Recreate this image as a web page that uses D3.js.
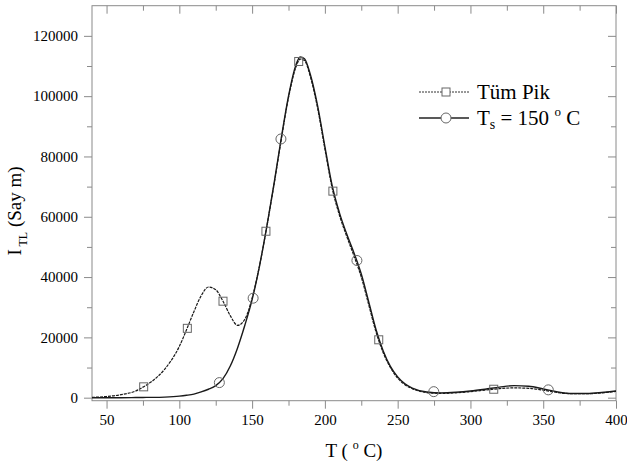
<!DOCTYPE html>
<html>
<head>
<meta charset="utf-8">
<script src="https://cdn.jsdelivr.net/npm/d3@7"></script>
<style>
  body { margin: 0; background: #fff; }
  svg text { font-family: "Liberation Serif", "Times New Roman", Times, "DejaVu Serif", serif !important; fill: #000; }
</style>
</head>
<body>
<div id="chart"></div>
<script>
// Temperatures (x) and the two glow curves.
var temps = [40, 50, 60, 70, 75, 80, 90, 100, 105, 110, 115, 120, 125, 130, 135, 140, 145, 150,
             155, 160, 165, 170, 175, 180, 183, 186, 190, 195, 200, 205, 210, 215, 220, 225,
             230, 235, 240, 245, 250, 255, 260, 270, 280, 290, 300, 310, 320, 330, 340, 350,
             360, 370, 380, 390, 400];
var tumPik = [100, 400, 1000, 2200, 3500, 5000, 9500, 17000, 22600, 28500, 33800, 36700, 35800,
              32000, 27200, 24000, 26000, 33000, 43500, 56500, 70500, 85500, 99500, 109500,
              112300, 111800, 106500, 96000, 82500, 69500, 60500, 53500, 47000, 40000, 31000,
              22000, 15000, 10000, 6500, 4300, 3000, 1700, 1400, 1600, 2000, 2500, 3000, 3250,
              3100, 2500, 1700, 1300, 1300, 1600, 2100];
var ts150 = [0, 0, 0, 50, 80, 100, 200, 500, 800, 1200, 1900, 2800, 4000, 6300, 10500, 16500,
             24000, 32500, 43500, 56500, 70800, 86000, 100000, 110200, 113000, 112400, 107200,
             96800, 83300, 70300, 61300, 54300, 48000, 41000, 32000, 22800, 15600, 10400, 6900,
             4600, 3200, 1900, 1600, 1800, 2200, 2800, 3500, 4000, 3800, 2900, 1900, 1400, 1400,
             1700, 2200];

// Marker positions on each curve.
var squareT = [75.5, 105.5, 130, 159.5, 182, 205.5, 237, 316];
var squareV = [3600, 23000, 32000, 55200, 111500, 68500, 19200, 2800];
var circleT = [127.5, 150.7, 169.8, 222, 274.8, 353.5];
var circleV = [5000, 33000, 85800, 45500, 2000, 2600];

// Tick values.
var xTicks = [50, 100, 150, 200, 250, 300, 350, 400];
var xMinor = [75, 125, 175, 225, 275, 325, 375];
var yTicks = [0, 20000, 40000, 60000, 80000, 100000, 120000];
var yMinor = [10000, 30000, 50000, 70000, 90000, 110000];

var margin = {top: 5.7, right: 11, bottom: 63.3, left: 92};
var width  = 627 - margin.left - margin.right;
var height = 464 - margin.top - margin.bottom;

var svg = d3.select("#chart").append("svg")
    .attr("width", 627)
    .attr("height", 464)
  .append("g")
    .attr("transform", "translate(" + margin.left + "," + margin.top + ")");

var x = d3.scaleLinear().domain([40, 400]).range([0, width]);
var y = d3.scaleLinear().domain([-1000, 130000]).range([height, 0]);

var axisColor = "#8a8a8a";
var serif = "'Liberation Serif', 'Times New Roman', Times, serif";

// helper: draws an axis and recolours it
function drawAxis(g, axis, labels) {
    g.call(axis);
    g.attr("font-family", serif);
    g.select(".domain").remove();
    g.selectAll(".tick line").attr("stroke", axisColor).attr("stroke-width", 1);
    if (labels) {
        g.selectAll(".tick text")
            .style("font-family", serif)
            .attr("font-size", 15)
            .attr("fill", "#000");
    } else {
        g.selectAll(".tick text").remove();
    }
}

// bottom (outward) and top (inward)
drawAxis(svg.append("g").attr("transform", "translate(0," + height + ")"),
    d3.axisBottom(x).tickValues(xTicks).tickSize(8).tickPadding(6).tickFormat(d3.format("d")), true);
drawAxis(svg.append("g").attr("transform", "translate(0," + height + ")"),
    d3.axisBottom(x).tickValues(xMinor).tickSize(5), false);
drawAxis(svg.append("g"), d3.axisBottom(x).tickValues(xTicks).tickSize(8), false);
drawAxis(svg.append("g"), d3.axisBottom(x).tickValues(xMinor).tickSize(5), false);

// left (outward) and right (inward)
drawAxis(svg.append("g"),
    d3.axisLeft(y).tickValues(yTicks).tickSize(8).tickPadding(6).tickFormat(d3.format("d")), true);
drawAxis(svg.append("g"), d3.axisLeft(y).tickValues(yMinor).tickSize(5), false);
drawAxis(svg.append("g").attr("transform", "translate(" + width + ",0)"),
    d3.axisLeft(y).tickValues(yTicks).tickSize(8), false);
drawAxis(svg.append("g").attr("transform", "translate(" + width + ",0)"),
    d3.axisLeft(y).tickValues(yMinor).tickSize(5), false);

// frame
svg.append("rect")
    .attr("width", width)
    .attr("height", height)
    .attr("fill", "none")
    .attr("stroke", axisColor)
    .attr("stroke-width", 1);

// curves
var line = d3.line()
    .x(function(d) { return x(d[0]); })
    .y(function(d) { return y(d[1]); })
    .curve(d3.curveMonotoneX);

svg.append("path")
    .datum(d3.zip(temps, ts150))
    .attr("d", line)
    .attr("fill", "none")
    .attr("stroke", "#1a1a1a")
    .attr("stroke-width", 1.4);

svg.append("path")
    .datum(d3.zip(temps, tumPik))
    .attr("d", line)
    .attr("fill", "none")
    .attr("stroke", "#1a1a1a")
    .attr("stroke-width", 1.2)
    .attr("stroke-dasharray", "3,1");

// markers
svg.selectAll(".sq").data(d3.zip(squareT, squareV)).enter().append("rect")
    .attr("x", function(d) { return x(d[0]) - 4; })
    .attr("y", function(d) { return y(d[1]) - 4; })
    .attr("width", 8)
    .attr("height", 8)
    .attr("fill", "none")
    .attr("stroke", "#666")
    .attr("stroke-width", 1);

svg.selectAll(".ci").data(d3.zip(circleT, circleV)).enter().append("circle")
    .attr("cx", function(d) { return x(d[0]); })
    .attr("cy", function(d) { return y(d[1]); })
    .attr("r", 5)
    .attr("fill", "none")
    .attr("stroke", "#666")
    .attr("stroke-width", 1);

// legend
var leg = svg.append("g").attr("transform", "translate(" + (419 - margin.left) + "," + (92 - margin.top) + ")");
leg.append("line").attr("x1", 0).attr("x2", 50).attr("y1", 0).attr("y2", 0)
    .attr("stroke", "#333").attr("stroke-dasharray", "2,1");
leg.append("rect").attr("x", 23).attr("y", -4).attr("width", 8).attr("height", 8)
    .attr("fill", "#fff").attr("stroke", "#666");
leg.append("line").attr("x1", 0).attr("x2", 50).attr("y1", 26).attr("y2", 26)
    .attr("stroke", "#222").attr("stroke-width", 1.4);
leg.append("circle").attr("cx", 27).attr("cy", 26).attr("r", 5)
    .attr("fill", "#fff").attr("stroke", "#666");
leg.append("text").attr("x", 58).attr("y", 7).attr("font-size", 21).text("Tüm Pik");
var t2 = leg.append("text").attr("x", 58).attr("y", 33).attr("font-size", 21);
t2.append("tspan").text("T");
t2.append("tspan").attr("font-size", 14).attr("dy", 4).text("s");
t2.append("tspan").attr("dy", -4).text(" = 150 ");
t2.append("tspan").attr("font-size", 13).attr("dy", -9).text("o");
t2.append("tspan").attr("dy", 9).text(" C");

// axis titles
var xt = svg.append("text")
    .attr("x", width / 2)
    .attr("y", 457.5 - margin.top)
    .attr("text-anchor", "middle")
    .attr("font-size", 19);
xt.append("tspan").text("T ( ");
xt.append("tspan").attr("font-size", 12).attr("dy", -8).text("o");
xt.append("tspan").attr("dy", 8).text(" C)");

var yt = svg.append("text")
    .attr("transform", "translate(" + (21 - margin.left) + "," + (211 - margin.top) + ") rotate(-90)")
    .attr("text-anchor", "middle")
    .attr("font-size", 19);
yt.append("tspan").text("I");
yt.append("tspan").attr("font-size", 12).attr("dy", 6).text(" TL");
yt.append("tspan").attr("dy", -6).text("  (Say m)");
</script>
</body>
</html>
